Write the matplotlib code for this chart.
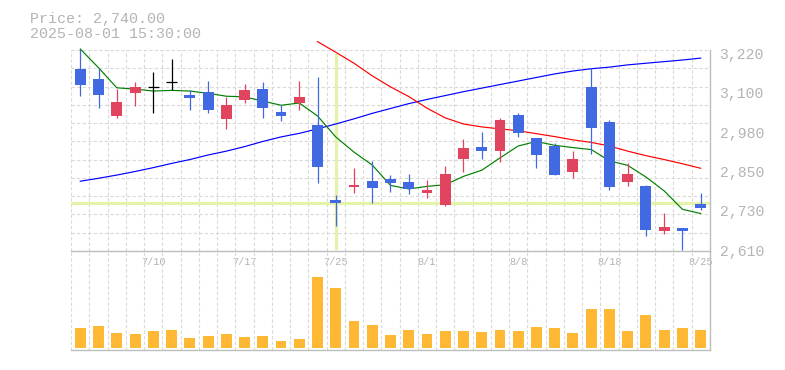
import matplotlib
matplotlib.use("Agg")
import matplotlib.pyplot as plt
import numpy as np

plt.rcParams['font.family'] = ['Liberation Mono', 'DejaVu Sans Mono']

# ---------------- data ----------------
dates = ['7/4', '7/7', '7/8', '7/9', '7/10', '7/11', '7/14', '7/15', '7/16', '7/17',
         '7/18', '7/22', '7/23', '7/24', '7/25', '7/28', '7/29', '7/30', '7/31', '8/1',
         '8/4', '8/5', '8/6', '8/7', '8/8', '8/12', '8/13', '8/14', '8/15', '8/18',
         '8/19', '8/20', '8/21', '8/22', '8/25']
open_ = [3171, 3140, 3027, 3098, 3115, 3131, 3091, 3100, 3017, 3076,
         3109, 3038, 3067, 2998, 2766, 2806, 2825, 2831, 2822, 2789,
         2750, 2893, 2930, 2918, 3029, 2958, 2933, 2853, 3116, 3007,
         2822, 2809, 2671, 2679, 2754]
high = [3233, 3173, 3110, 3131, 3162, 3202, 3105, 3134, 3086, 3125,
        3131, 3061, 3134, 3146, 2781, 2866, 2887, 2843, 2846, 2828,
        2871, 2955, 2976, 3020, 3035, 2958, 2943, 2918, 3173, 3013,
        2880, 2812, 2726, 2679, 2788]
low = [3089, 3052, 3021, 3058, 3036, 3106, 3044, 3036, 2987, 3067,
       3021, 3011, 3045, 2819, 2686, 2789, 2758, 2792, 2785, 2773,
       2748, 2853, 2893, 2884, 2962, 2866, 2844, 2835, 2909, 2798,
       2810, 2655, 2662, 2612, 2734]
close = [3123, 3092, 3068, 3116, 3115, 3131, 3082, 3045, 3060, 3106,
         3052, 3027, 3085, 2869, 2758, 2812, 2804, 2819, 2800, 2797,
         2846, 2927, 2918, 3013, 2974, 2906, 2844, 2893, 2990, 2807,
         2846, 2674, 2682, 2671, 2740]
volume = [197000, 217000, 147000, 137000, 167000, 177000, 97000, 117000, 137000, 107000,
          117000, 67000, 87000, 707000, 597000, 267000, 227000, 127000, 177000, 137000,
          167000, 167000, 157000, 177000, 167000, 207000, 197000, 147000, 387000, 387000,
          167000, 327000, 177000, 197000, 177000]
ma_short = [3233, 3175, 3113, 3109, 3103, 3105, 3103, 3096, 3087, 3085,
            3072, 3059, 3066, 3026, 2961, 2914, 2874, 2811, 2800, 2808,
            2813, 2839, 2858, 2896, 2933, 2947, 2935, 2928, 2922, 2887,
            2873, 2837, 2794, 2737, 2724]
ma_mid = [np.nan] * 13 + [3256, 3223, 3189, 3150, 3116, 3086, 3050,
                          3020, 3001, 2992, 2986, 2980, 2971, 2962, 2952, 2944, 2933,
                          2917, 2903, 2891, 2878, 2864]
ma_long = [2824, 2833, 2843, 2854, 2866, 2879, 2891, 2905, 2917, 2931,
           2947, 2961, 2972, 2986, 3001, 3017, 3034, 3049, 3064, 3077,
           3089, 3101, 3112, 3123, 3134, 3145, 3156, 3165, 3172, 3177,
           3184, 3189, 3194, 3199, 3205]
ytick_vals = [2610, 2732, 2854, 2976, 3098, 3220]
ytick_labels = ['2,610', '2,730', '2,850', '2,980', '3,100', '3,220']
xtick_labels = ['7/10', '7/17', '7/25', '8/1', '8/8', '8/18', '8/25']
title_price = 'Price: 2,740.00'
title_time = '2025-08-01 15:30:00'
cursor_date = '7/25'

# ---------------- style ----------------
UP = '#e0445e'
DOWN = '#4169e1'
VOL = '#ffb834'
GRID = '#d9d9d9'
AXIS = '#bdbdbd'
TXT = '#b4b4b4'
CROSS = '#e4f3aa'

W, H = 785, 370
fig = plt.figure(figsize=(W / 100, H / 100), dpi=100)

def frac_box(x0, y0, x1, y1):
    return [x0 / W, 1 - y1 / H, (x1 - x0) / W, (y1 - y0) / H]

ax = fig.add_axes(frac_box(71.2, 50, 709.8, 251))
axv = fig.add_axes(frac_box(71.2, 251, 709.8, 350))
axv.set_facecolor('none')

n = len(dates)
x = np.arange(n)
O = np.array(open_, float)
Hh = np.array(high, float)
L = np.array(low, float)
C = np.array(close, float)

ylo, yhi = 2608, 3230
ax.set_xlim(-0.5, n - 0.5)
ax.set_ylim(ylo, yhi)
axv.set_xlim(-0.5, n - 0.5)
vmax = max(volume)
axv.set_ylim(-0.033 * vmax, 1.368 * vmax)

dash = (0, (3, 2))
for a in (ax, axv):
    for v in np.arange(n + 1) - 0.5:
        a.axvline(v, color=GRID, lw=0.8, ls=dash, zorder=0)
for h in np.linspace(ylo, yhi, 12)[1:]:
    ax.axhline(h, color=GRID, lw=0.8, ls=dash, zorder=0, clip_on=False)

# crosshair
ci = dates.index(cursor_date)
ax.axvline(ci, ymin=0.015, ymax=0.975, color=CROSS, lw=2.3, zorder=1)
ax.axhline(close[ci], color=CROSS, lw=2.3, zorder=1)

# moving averages
ax.plot(x, ma_long, color='#0000ff', lw=0.85, zorder=2, clip_on=False)
ax.plot(x, ma_mid, color='#ff0000', lw=0.85, zorder=2, clip_on=False)
ax.plot(x, ma_short, color='#008000', lw=0.85, zorder=2, clip_on=False)

# candles
cols = np.where(C > O, UP, np.where(C < O, DOWN, 'black'))
ax.vlines(x, L, Hh, colors=cols, lw=0.9, zorder=3)
body = C != O
ax.bar(x[body], np.abs(C - O)[body], bottom=np.minimum(O, C)[body], width=0.6,
       color=cols[body], linewidth=0, zorder=4)
doji = ~body
ax.hlines(C[doji], x[doji] - 0.3, x[doji] + 0.3, colors='black', lw=0.9, zorder=4)

# volume
axv.bar(x, volume, width=0.6, color=VOL, linewidth=0, zorder=3)

# axes styling
for a in (ax, axv):
    for s in ('top', 'left'):
        a.spines[s].set_visible(False)
    for s in ('bottom', 'right'):
        a.spines[s].set_color(AXIS)
        a.spines[s].set_linewidth(1.0)

ax.yaxis.tick_right()
ax.set_yticks(ytick_vals, ytick_labels)
ax.tick_params(axis='y', length=0, pad=7, labelsize=10.6, labelcolor=TXT)
ax.set_xticks([dates.index(d) for d in xtick_labels], xtick_labels)
ax.tick_params(axis='x', length=0, pad=4, labelsize=7.4, labelcolor=TXT)

axv.set_xticks([])
axv.set_yticks([])

fig.text(30 / W, 1 - 23.3 / H, title_price, fontsize=10.8, color=TXT, va='baseline', ha='left')
fig.text(30 / W, 1 - 38.3 / H, title_time, fontsize=10.8, color=TXT, va='baseline', ha='left')

fig.savefig('out.png', dpi=100)
